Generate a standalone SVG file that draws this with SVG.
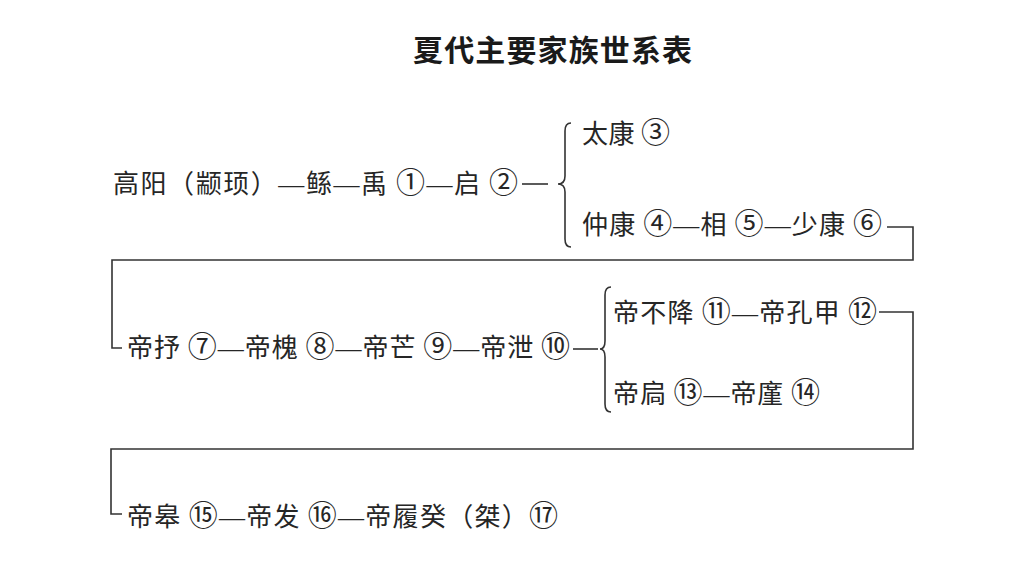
<svg xmlns="http://www.w3.org/2000/svg" width="1024" height="576" viewBox="0 0 1024 576">
  <style>
    .t { font-family: "Noto Sans CJK SC", "Liberation Serif", serif; font-size: 26px; fill: #262626; }
    .d { font-family: "Liberation Serif", "Noto Sans CJK SC", serif; }
    .n { font-size: 29px; }
    .title { font-family: "Noto Sans CJK SC", "Liberation Serif", serif; font-size: 30px; font-weight: 700; fill: #1a1a1a; }
    .c { fill: none; stroke: #333; stroke-width: 1.6; }
  </style>
  <rect width="1024" height="576" fill="#ffffff"/>
  <g id="title">
    <text class="title" x="413" y="61" textLength="279" lengthAdjust="spacing">夏代主要家族世系表</text>
  </g>
  <g id="row-gaoyang">
    <text class="t" x="113" y="193" textLength="405" lengthAdjust="spacing">高阳（颛顼）<tspan class="d">—</tspan>鲧<tspan class="d">—</tspan>禹 <tspan class="n">①</tspan><tspan class="d">—</tspan>启 <tspan class="n">②</tspan></text>
  </g>
  <g id="row-taikang">
    <text class="t" x="582" y="143" textLength="88" lengthAdjust="spacing">太康 <tspan class="n">③</tspan></text>
  </g>
  <g id="row-zhongkang">
    <text class="t" x="582" y="234" textLength="300" lengthAdjust="spacing">仲康 <tspan class="n">④</tspan><tspan class="d">—</tspan>相 <tspan class="n">⑤</tspan><tspan class="d">—</tspan>少康 <tspan class="n">⑥</tspan></text>
  </g>
  <g id="row-dizhu">
    <text class="t" x="127" y="357" textLength="443" lengthAdjust="spacing">帝抒 <tspan class="n">⑦</tspan><tspan class="d">—</tspan>帝槐 <tspan class="n">⑧</tspan><tspan class="d">—</tspan>帝芒 <tspan class="n">⑨</tspan><tspan class="d">—</tspan>帝泄 <tspan class="n">⑩</tspan></text>
  </g>
  <g id="row-dibujiang">
    <text class="t" x="613" y="322" textLength="264" lengthAdjust="spacing">帝不降 <tspan class="n">⑪</tspan><tspan class="d">—</tspan>帝孔甲 <tspan class="n">⑫</tspan></text>
  </g>
  <g id="row-dijiong">
    <text class="t" x="613" y="403" textLength="207" lengthAdjust="spacing">帝扃 <tspan class="n">⑬</tspan><tspan class="d">—</tspan>帝廑 <tspan class="n">⑭</tspan></text>
  </g>
  <g id="row-digao">
    <text class="t" x="127" y="526" textLength="431" lengthAdjust="spacing">帝皋 <tspan class="n">⑮</tspan><tspan class="d">—</tspan>帝发 <tspan class="n">⑯</tspan><tspan class="d">—</tspan>帝履癸（桀）<tspan class="n">⑰</tspan></text>
  </g>
  <g id="connectors">
    <line class="c" x1="522" y1="184" x2="548" y2="184"/>
    <path class="c" d="M571,123 Q565,123 565,131 L565,176 Q565,184 558,184 Q565,184 565,192 L565,239 Q565,247 571,247"/>
    <polyline class="c" points="887,227 913,227 913,260 112,260 112,348 122,348"/>
    <line class="c" x1="573" y1="349" x2="598" y2="349"/>
    <path class="c" d="M611,287 Q605,287 605,295 L605,341 Q605,349 600,349 Q605,349 605,357 L605,404 Q605,412 611,412"/>
    <polyline class="c" points="879,312 913,312 913,449 111,449 111,514 122,514"/>
  </g>
</svg>
